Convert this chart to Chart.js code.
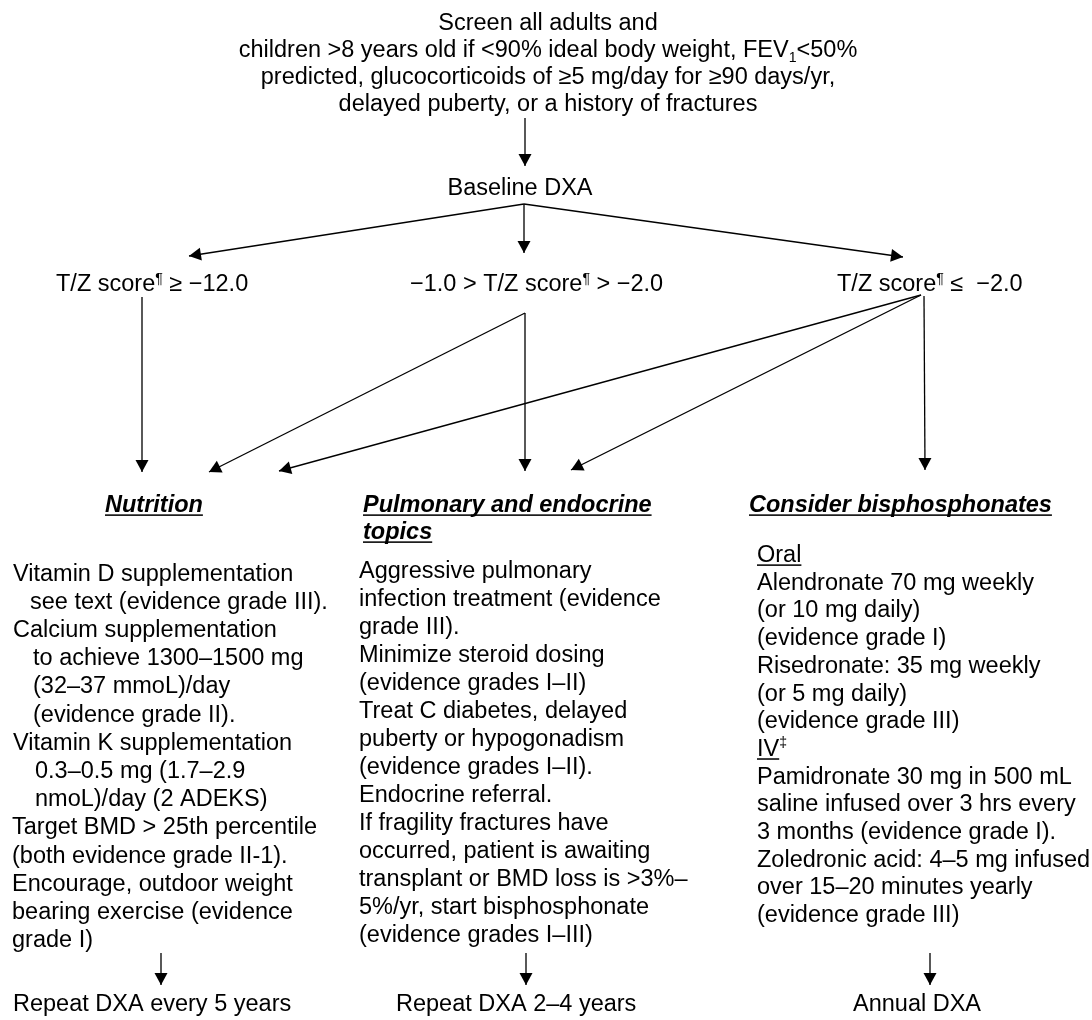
<!DOCTYPE html>
<html>
<head>
<meta charset="utf-8">
<script src="https://cdn.jsdelivr.net/npm/chart.js@4.4.1/dist/chart.umd.min.js"></script>
<style>
html,body{margin:0;padding:0;background:#fff;}
canvas{display:block;}
</style>
</head>
<body>
<canvas id="c" width="1092" height="1020"></canvas>
<script>
// ---------------- DATA (content) ----------------
const titleLines = [
  "Screen all adults and",
  "children >8 years old if <90% ideal body weight, FEV\u2081<50%",
  "predicted, glucocorticoids of \u22655 mg/day for \u226590 days/yr,",
  "delayed puberty, or a history of fractures"
];
const baselineLabel = "Baseline DXA";
const scoreLabels = [
  "T/Z score\u00b6 \u2265 \u221212.0",
  "\u22121.0 > T/Z score\u00b6 > \u22122.0",
  "T/Z score\u00b6 \u2264  \u22122.0"
];
const groupHeadings = [
  ["Nutrition"],
  ["Pulmonary and endocrine", "topics"],
  ["Consider bisphosphonates"]
];
const nutritionLines = [
  "Vitamin D supplementation",
  "see text (evidence grade III).",
  "Calcium supplementation",
  "to achieve 1300\u20131500 mg",
  "(32\u201337 mmoL)/day",
  "(evidence grade II).",
  "Vitamin K supplementation",
  "0.3\u20130.5 mg (1.7\u20132.9",
  "nmoL)/day (2 ADEKS)",
  "Target BMD > 25th percentile",
  "(both evidence grade II-1).",
  "Encourage, outdoor weight",
  "bearing exercise (evidence",
  "grade I)"
];
const pulmonaryLines = [
  "Aggressive pulmonary",
  "infection treatment (evidence",
  "grade III).",
  "Minimize steroid dosing",
  "(evidence grades I\u2013II)",
  "Treat C diabetes, delayed",
  "puberty or hypogonadism",
  "(evidence grades I\u2013II).",
  "Endocrine referral.",
  "If fragility fractures have",
  "occurred, patient is awaiting",
  "transplant or BMD loss is >3%\u2013",
  "5%/yr, start bisphosphonate",
  "(evidence grades I\u2013III)"
];
const bisphosphonateLines = [
  "Oral",
  "Alendronate 70 mg weekly",
  "(or 10 mg daily)",
  "(evidence grade I)",
  "Risedronate: 35 mg weekly",
  "(or 5 mg daily)",
  "(evidence grade III)",
  "IV\u2021",
  "Pamidronate 30 mg in 500 mL",
  "saline infused over 3 hrs every",
  "3 months (evidence grade I).",
  "Zoledronic acid: 4\u20135 mg infused",
  "over 15\u201320 minutes yearly",
  "(evidence grade III)"
];
const followUpLabels = ["Repeat DXA every 5 years", "Repeat DXA 2\u20134 years", "Annual DXA"];

// flow edges: [from anchor, to anchor]
const edges = [
  ["screenOut", "baselineIn"],
  ["baselineOut", "score1In"],
  ["baselineOut", "score2In"],
  ["baselineOut", "score3In"],
  ["score1Out", "nutritionInA"],
  ["score2Out", "nutritionInB"],
  ["score2Out", "pulmonaryInA"],
  ["score3Out", "nutritionInC"],
  ["score3Out", "pulmonaryInB"],
  ["score3OutV", "bisphosInA"],
  ["nutritionOut", "repeat5In"],
  ["pulmonaryOut", "repeat24In"],
  ["bisphosOut", "annualIn"]
];

// ---------------- LAYOUT ----------------
const anchors = {
  screenOut: [525, 118], baselineIn: [525, 166],
  baselineOut: [524, 204],
  score1In: [189, 256], score2In: [524, 253], score3In: [903, 257],
  score1Out: [142, 297], nutritionInA: [142, 472],
  score2Out: [525, 313], nutritionInB: [209, 472], pulmonaryInA: [525, 471],
  score3Out: [921, 295], nutritionInC: [279, 471], pulmonaryInB: [571, 470],
  score3OutV: [924, 296], bisphosInA: [925, 470],
  nutritionOut: [161, 953], repeat5In: [161, 985],
  pulmonaryOut: [526, 953], repeat24In: [526, 985],
  bisphosOut: [930, 953], annualIn: [930, 985]
};
const FS = 23.5;
const FONT = '"Liberation Sans", Arial, Helvetica, sans-serif';
const layout = {
  title: { x: 548, y0: 30, dy: 27 },
  baseline: { x: 520, y: 195 },
  scores: [{ x: 56, y: 291, align: 'left' }, { x: 410, y: 291, align: 'left' }, { x: 837, y: 291, align: 'left' }],
  headings: [{ x: 105, y0: 512 }, { x: 363, y0: 512 }, { x: 749, y0: 512 }],
  headingDy: 27,
  columns: [
    { x: 13, y0: 580.5, dy: 28.2, indent: [0, 17, 0, 20, 20, 20, 0, 22, 22, -1, -1, -1, -1, -1], underline: [] },
    { x: 359, y0: 577.5, dy: 28.0, indent: [], underline: [] },
    { x: 757, y0: 562, dy: 27.7, indent: [], underline: [0, 7] }
  ],
  followUps: [{ x: 13, y: 1011 }, { x: 396, y: 1011 }, { x: 853, y: 1011 }],
  arrow: { len: 12, half: 6.5 }
};

// ---------------- RENDER HELPERS ----------------
function splitRich(str) {
  const out = []; let cur = '';
  for (const ch of str) {
    if (ch === '\u00b6' || ch === '\u2021') { if (cur) out.push({ t: cur, k: 'n' }); cur = ''; out.push({ t: ch, k: 'sup' }); }
    else if (ch === '\u2081') { if (cur) out.push({ t: cur, k: 'n' }); cur = ''; out.push({ t: '1', k: 'sub' }); }
    else cur += ch;
  }
  if (cur) out.push({ t: cur, k: 'n' });
  return out;
}
function fontStr(size, o) { return (o.italic ? 'italic ' : '') + (o.bold ? 'bold ' : '') + size + 'px ' + FONT; }
function drawRich(ctx, str, x, y, o) {
  o = o || {};
  const size = o.size || FS, small = size * 0.6;
  const parts = splitRich(str);
  let total = 0;
  parts.forEach(p => {
    ctx.font = fontStr(p.k === 'n' ? size : small, o);
    p.w = ctx.measureText(p.t).width; total += p.w;
  });
  let sx = x;
  if (o.align === 'center') sx = x - total / 2;
  else if (o.align === 'right') sx = x - total;
  ctx.fillStyle = '#000';
  ctx.textBaseline = 'alphabetic';
  ctx.textAlign = 'left';
  parts.forEach(p => {
    let yy = y;
    if (p.k === 'sup') yy = y - size * 0.36;
    if (p.k === 'sub') yy = y + size * 0.22;
    ctx.font = fontStr(p.k === 'n' ? size : small, o);
    ctx.fillText(p.t, sx, yy);
    if (o.underline && p.k === 'n') ctx.fillRect(sx, y + size * 0.1, p.w, Math.max(1.4, size * 0.065));
    sx += p.w;
  });
}

// ---------------- CHART ----------------
const datasets = edges.map(([a, b]) => ({
  data: [{ x: anchors[a][0], y: anchors[a][1] }, { x: anchors[b][0], y: anchors[b][1] }],
  showLine: true,
  borderColor: '#000',
  backgroundColor: '#000',
  borderWidth: 1.3,
  pointRadius: 0,
  pointHoverRadius: 0,
  fill: false,
  clip: false
}));

const flowPlugin = {
  id: 'flow',
  beforeDraw(chart) {
    const ctx = chart.ctx;
    ctx.save(); ctx.fillStyle = '#fff'; ctx.fillRect(0, 0, chart.width, chart.height); ctx.restore();
  },
  afterDatasetsDraw(chart) {
    const ctx = chart.ctx, xs = chart.scales.x, ys = chart.scales.y;
    const X = v => xs.getPixelForValue(v), Y = v => ys.getPixelForValue(v);
    ctx.save();
    // arrowheads
    chart.data.datasets.forEach(ds => {
      const p0 = ds.data[0], p1 = ds.data[1];
      const x0 = X(p0.x), y0 = Y(p0.y), x1 = X(p1.x), y1 = Y(p1.y);
      const ang = Math.atan2(y1 - y0, x1 - x0);
      const L = layout.arrow.len, H = layout.arrow.half;
      ctx.beginPath();
      ctx.moveTo(x1, y1);
      ctx.lineTo(x1 - L * Math.cos(ang) + H * Math.sin(ang), y1 - L * Math.sin(ang) - H * Math.cos(ang));
      ctx.lineTo(x1 - L * Math.cos(ang) - H * Math.sin(ang), y1 - L * Math.sin(ang) + H * Math.cos(ang));
      ctx.closePath();
      ctx.fillStyle = '#000';
      ctx.fill();
    });
    // title
    titleLines.forEach((t, i) => drawRich(ctx, t, X(layout.title.x), Y(layout.title.y0 + i * layout.title.dy), { align: 'center' }));
    drawRich(ctx, baselineLabel, X(layout.baseline.x), Y(layout.baseline.y), { align: 'center' });
    scoreLabels.forEach((t, i) => { const s = layout.scores[i]; drawRich(ctx, t, X(s.x), Y(s.y), { align: s.align }); });
    groupHeadings.forEach((lines, i) => {
      const h = layout.headings[i];
      lines.forEach((t, j) => drawRich(ctx, t, X(h.x), Y(h.y0 + j * layout.headingDy), { bold: true, italic: true, underline: true }));
    });
    [nutritionLines, pulmonaryLines, bisphosphonateLines].forEach((lines, i) => {
      const c = layout.columns[i];
      lines.forEach((t, j) => {
        const ind = c.indent[j] || 0;
        drawRich(ctx, t, X(c.x + ind), Y(c.y0 + j * c.dy), { underline: c.underline.includes(j) });
      });
    });
    followUpLabels.forEach((t, i) => { const f = layout.followUps[i]; drawRich(ctx, t, X(f.x), Y(f.y), {}); });
    ctx.restore();
  }
};

new Chart(document.getElementById('c'), {
  type: 'scatter',
  data: { datasets },
  options: {
    responsive: false,
    devicePixelRatio: 1,
    animation: false,
    events: [],
    layout: { padding: 0 },
    plugins: { legend: { display: false }, tooltip: { enabled: false }, title: { display: false } },
    scales: {
      x: { type: 'linear', min: 0, max: 1092, display: false },
      y: { type: 'linear', min: 0, max: 1020, reverse: true, display: false }
    }
  },
  plugins: [flowPlugin]
});
</script>
</body>
</html>
